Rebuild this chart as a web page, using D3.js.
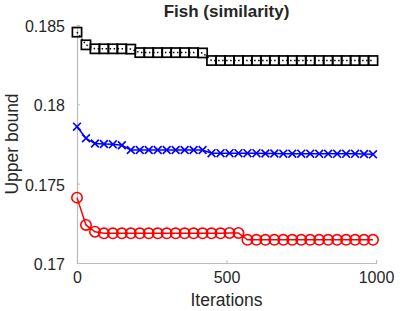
<!DOCTYPE html>
<html>
<head>
<meta charset="utf-8">
<script src="https://cdn.jsdelivr.net/npm/d3@7"></script>
<style>
  body { margin: 0; background: #fff; }
  text { font-family: "Liberation Sans", Arial, sans-serif; fill: #262626; }
</style>
</head>
<body>
<div id="chart"></div>
<script>
// iterations where markers sit (every 30 iterations)
var iterations = d3.range(0, 1000, 30);

var blackValues = [0.18455, 0.18375, 0.18350, 0.18350, 0.18350, 0.18350, 0.18348,
  0.18326, 0.18326, 0.18326, 0.18326, 0.18326, 0.18326, 0.18326, 0.18324,
  0.18276, 0.18276, 0.18276, 0.18276, 0.18276, 0.18276, 0.18276, 0.18276,
  0.18276, 0.18276, 0.18276, 0.18276, 0.18276, 0.18276, 0.18276, 0.18276,
  0.18276, 0.18276, 0.18276];

var blueValues = [0.17859, 0.17786, 0.17753, 0.17750, 0.17748, 0.17742, 0.17712,
  0.17712, 0.17712, 0.17712, 0.17712, 0.17712, 0.17712, 0.17712, 0.17712,
  0.17692, 0.17692, 0.17692, 0.17692, 0.17692, 0.17692, 0.17690, 0.17690,
  0.17689, 0.17689, 0.17689, 0.17689, 0.17688, 0.17688, 0.17688, 0.17688,
  0.17688, 0.17687, 0.17685];

var redValues = [0.17412, 0.17240, 0.17197, 0.17187, 0.17187, 0.17187, 0.17187,
  0.17187, 0.17187, 0.17187, 0.17187, 0.17187, 0.17187, 0.17187, 0.17187,
  0.17187, 0.17187, 0.17189, 0.17189, 0.17146, 0.17146, 0.17146, 0.17146,
  0.17146, 0.17146, 0.17146, 0.17146, 0.17146, 0.17146, 0.17146, 0.17146,
  0.17146, 0.17146, 0.17146];

var xTicks = [0, 500, 1000];
var yTicks = [0.17, 0.175, 0.18, 0.185];

var width = 415;
var height = 311;
var plotLeft = 77;
var plotRight = 376;
var plotTop = 25;
var plotBottom = 263;
var axisColor = "#bcbcbc";

var svg = d3
  .select("#chart")
  .append("svg")
  .attr("width", width)
  .attr("height", height);

var xScale = d3.scaleLinear().domain([0, 1000]).range([plotLeft, plotRight]);
var yScale = d3.scaleLinear().domain([0.17, 0.185]).range([plotBottom, plotTop]);

// axes, ticks pointing inward like matlab
var xAxis = d3.axisBottom(xScale)
  .tickValues(xTicks)
  .tickSize(-3)
  .tickPadding(9)
  .tickFormat(d3.format("d"));
var yAxis = d3.axisLeft(yScale)
  .tickValues(yTicks)
  .tickSize(-3)
  .tickPadding(12)
  .tickFormat(function(d) { return String(+d.toFixed(3)); });

var gx = svg.append("g")
  .attr("class", "xAxis")
  .attr("transform", "translate(0," + plotBottom + ")")
  .call(xAxis);
var gy = svg.append("g")
  .attr("class", "yAxis")
  .attr("transform", "translate(" + plotLeft + ",0)")
  .call(yAxis);

[gx, gy].forEach(function(g) {
  g.select(".domain").attr("stroke", axisColor).attr("stroke-width", 1.2);
  g.selectAll(".tick line").attr("stroke", axisColor);
  g.selectAll(".tick text")
    .attr("fill", "#262626")
    .style("font-size", "16px");
});
gy.selectAll(".tick text").attr("dy", "0.4em");

// line generator
var line = d3.line()
  .x(function(d) { return xScale(d[0]); })
  .y(function(d) { return yScale(d[1]); });

function pairs(values) {
  return iterations.map(function(it, i) { return [it, values[i]]; });
}

var blackData = pairs(blackValues);
var blueData = pairs(blueValues);
var redData = pairs(redValues);

// black: dotted line with squares
svg.append("path")
  .datum(blackData)
  .attr("d", line)
  .attr("fill", "none")
  .attr("stroke", "#000")
  .attr("stroke-width", 1.5)
  .attr("stroke-dasharray", "1.5,2.5");

svg.selectAll(".sq")
  .data(blackData)
  .enter()
  .append("rect")
  .attr("class", "sq")
  .attr("x", function(d) { return xScale(d[0]) - 4.6; })
  .attr("y", function(d) { return yScale(d[1]) - 4.6; })
  .attr("width", 9.2)
  .attr("height", 9.2)
  .attr("fill", "none")
  .attr("stroke", "#000")
  .attr("stroke-width", 1.7);

// blue: solid line with crosses
svg.append("path")
  .datum(blueData)
  .attr("d", line)
  .attr("fill", "none")
  .attr("stroke", "#0000ff")
  .attr("stroke-width", 1.5);

svg.selectAll(".cross")
  .data(blueData)
  .enter()
  .append("path")
  .attr("class", "cross")
  .attr("d", function(d) {
    var cx = xScale(d[0]), cy = yScale(d[1]), s = 3.9;
    return "M" + (cx - s) + "," + (cy - s) + "L" + (cx + s) + "," + (cy + s) +
      "M" + (cx - s) + "," + (cy + s) + "L" + (cx + s) + "," + (cy - s);
  })
  .attr("fill", "none")
  .attr("stroke", "#0000ff")
  .attr("stroke-width", 1.6);

// red: solid line with circles
svg.append("path")
  .datum(redData)
  .attr("d", line)
  .attr("fill", "none")
  .attr("stroke", "#ff0000")
  .attr("stroke-width", 1.5);

svg.selectAll(".circ")
  .data(redData)
  .enter()
  .append("circle")
  .attr("class", "circ")
  .attr("cx", function(d) { return xScale(d[0]); })
  .attr("cy", function(d) { return yScale(d[1]); })
  .attr("r", 5.2)
  .attr("fill", "none")
  .attr("stroke", "#ff0000")
  .attr("stroke-width", 1.6);

// Title and labels
svg.append("text")
  .attr("x", (plotLeft + plotRight) / 2)
  .attr("y", 17)
  .attr("text-anchor", "middle")
  .style("font-size", "17px")
  .style("font-weight", "bold")
  .text("Fish (similarity)");

svg.append("text")
  .attr("x", (plotLeft + plotRight) / 2)
  .attr("y", 306)
  .attr("text-anchor", "middle")
  .style("font-size", "17.5px")
  .text("Iterations");

svg.append("text")
  .attr("transform", "translate(18," + ((plotTop + plotBottom) / 2) + ")rotate(-90)")
  .attr("text-anchor", "middle")
  .style("font-size", "17.5px")
  .text("Upper bound");
</script>
</body>
</html>
